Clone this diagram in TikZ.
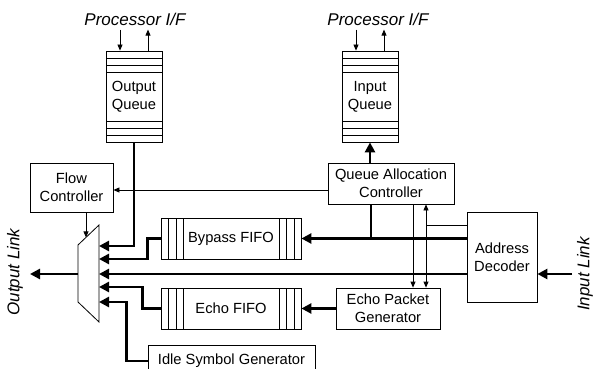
\documentclass[tikz,border=0pt]{standalone}
\usepackage{fontspec}
\setmainfont{Liberation Sans}
\usetikzlibrary{arrows.meta, positioning, calc}

\begin{document}
\begin{tikzpicture}[x=1pt, y=-1pt,
        box/.style={draw, line width=0.8pt, inner sep=0pt, align=center, font=\fontsize{14.7}{18}\selectfont},
        queue/.style={box, minimum width=56pt, minimum height=91pt, path picture={
            \foreach \d in {7,14,21} {
                \draw ([yshift=-\d pt]path picture bounding box.north west) -- ([yshift=-\d pt]path picture bounding box.north east);
                \draw ([yshift=\d pt]path picture bounding box.south west) -- ([yshift=\d pt]path picture bounding box.south east);
            }}},
        fifo/.style={box, minimum width=140pt, minimum height=41pt, path picture={
            \foreach \d in {7,15,22} {
                \draw ([xshift=\d pt]path picture bounding box.north west) -- ([xshift=\d pt]path picture bounding box.south west);
                \draw ([xshift=-\d pt]path picture bounding box.north east) -- ([xshift=-\d pt]path picture bounding box.south east);
            }}},
        bus/.style={line width=2.8pt},
        busarr/.style={bus, -{Triangle[length=10pt, width=10pt]}},
        sig/.style={line width=0.8pt},
        sigarr/.style={sig, -{Triangle[length=6pt, width=5pt]}},
        lbl/.style={inner sep=0pt, font=\fontsize{17}{20}\selectfont\itshape}]
        \path[use as bounding box] (0,0) rectangle (594,369);

        % blocks
        \node[queue] (oq) at (134,96.5) {Output\\Queue};
        \node[queue] (iq) at (370,96.5) {Input\\Queue};
        \node[box, minimum width=83pt, minimum height=49pt] (fc) at (71.5,187.5) {Flow\\Controller};
        \node[box, minimum width=126pt, minimum height=41pt] (qac) at (391,183.5) {Queue Allocation\\Controller};
        \node[box, minimum width=70pt, minimum height=90pt] (ad) at (502,257) {Address\\Decoder};
        \node[fifo] (bf) at (231,238.5) {Bypass FIFO};
        \node[fifo] (ef) at (231,308.5) {Echo FIFO};
        \node[box, minimum width=104pt, minimum height=41pt] (epg) at (388,308.5) {Echo Packet\\Generator};
        \node[box, minimum width=167pt, minimum height=32pt] (isg) at (231.5,361) {Idle Symbol Generator};

        \node[lbl] (pif1) at (135,19) {Processor I/F};
        \node[lbl] (pif2) at (378,19) {Processor I/F};
        \node[lbl, rotate=90] (olk) at (15,272) {Output Link};
        \node[lbl, rotate=90] (ilk) at (585,274) {Input Link};

        % multiplexer
        \draw[sig] (78,245) -- (99,225) -- (99,322) -- (78,302) -- cycle;
        \foreach \i/\y in {1/246, 2/259, 3/274, 4/287, 5/302} {
            \coordinate (m\i) at (99,\y);
        }
        \coordinate (mtop) at (86,237.4);
        \coordinate (mo) at (78,274);
        \coordinate (ol) at (30,274);
        \coordinate (il) at (572,274);
        \coordinate (j) at ([xshift=35pt]qac.south);

        % processor side
        \foreach \q in {oq, iq} {
            \draw[sigarr] ([xshift=-14pt, yshift=21pt]\q.north) -- ([xshift=-14pt]\q.north);
            \draw[sigarr] ([xshift=14pt]\q.north) -- ([xshift=14pt, yshift=21pt]\q.north);
        }

        % data paths
        \draw[busarr] (oq.south) |- (m1);
        \draw[busarr] (bf.west) -- ++(-13,0) |- (m2);
        \draw[busarr] (ad.west |- m3) -- (m3);
        \draw[busarr] (ef.west) -- ++(-18,0) |- (m4);
        \draw[busarr] (isg.west) -- ++(-21,0) |- (m5);
        \draw[busarr] (mo) -- (ol);
        \draw[busarr] (il) -- (ad.east |- il);
        \draw[busarr] (ad.west |- bf.east) -- (bf.east);
        \draw[bus] ([xshift=-20pt]qac.south) -- ([xshift=-20pt]qac.south |- bf.east);
        \draw[busarr] (qac.north -| iq.south) -- (iq.south);
        \draw[busarr] (epg.west) -- (ef.east);

        % control paths
        \draw[sigarr] ([yshift=-6.5pt]qac.west) -- ([yshift=-6.5pt]qac.west -| fc.east);
        \draw[sigarr] (fc.south -| mtop) -- (mtop);
        \draw[sigarr] ([xshift=22pt]qac.south) -- ([xshift=22pt]qac.south |- epg.north);
        \draw[sig, {Triangle[length=6pt, width=5pt]}-{Triangle[length=6pt, width=5pt]}] (j) -- (j |- epg.north);
        \draw[sig] ([yshift=32pt]ad.west) -- ([yshift=32pt]ad.west -| j);
    \end{tikzpicture}
\end{document}
